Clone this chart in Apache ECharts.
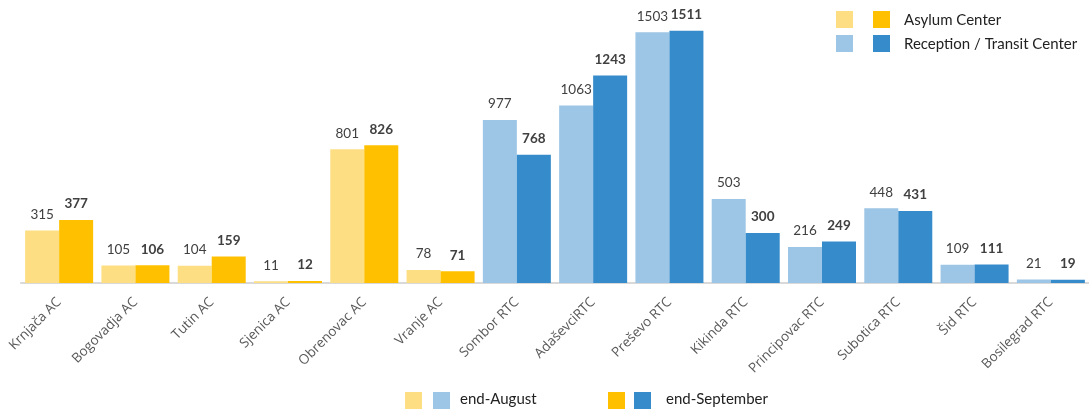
<!DOCTYPE html>
<html><head><meta charset="utf-8">
<script src="https://cdn.jsdelivr.net/npm/echarts@6/dist/echarts.min.js"></script>
<style>html,body{margin:0;padding:0;background:#fff}#c{width:1089px;height:412px}</style>
</head><body><div id="c"></div>
<script>
const categories = ['Krnjača AC','Bogovadja AC','Tutin AC','Sjenica AC','Obrenovac AC','Vranje AC','Sombor RTC','AdaševciRTC','Preševo RTC','Kikinda RTC','Principovac RTC','Subotica RTC','Šid RTC','Bosilegrad RTC'];
const centerType = ['AC','AC','AC','AC','AC','AC','RTC','RTC','RTC','RTC','RTC','RTC','RTC','RTC'];
const endAugust = [315,105,104,11,801,78,977,1063,1503,503,216,448,109,21];
const endSeptember = [377,106,159,12,826,71,768,1243,1511,300,249,431,111,19];

const colors = {
  AC: {aug:'#FDDE82', sep:'#FFC000'},
  RTC: {aug:'#9DC6E6', sep:'#368CCB'}
};
const chart = echarts.init(document.getElementById('c'), null, {renderer:'canvas'});
const labelBase = {show:true, position:'top', distance:9, fontFamily:'Lato', fontSize:13.5, color:'#404040'};
function sq(x,y,c){return {type:'rect', shape:{x:x,y:y,width:17,height:17}, style:{fill:c}};}
chart.setOption({
  animation:false,
  grid:{left:21, right:0, top:16, bottom:129},
  xAxis:{type:'category', data:categories,
    axisLine:{lineStyle:{color:'#D9D9D9', width:2}},
    axisTick:{show:false},
    axisLabel:{rotate:45, interval:0, fontFamily:'Open Sans', fontSize:13.5, color:'#595959', margin:17}
  },
  yAxis:{type:'value', min:0, max:1600, show:false, splitLine:{show:false}},
  series:[
    {name:'end-August', type:'bar', data:endAugust, barWidth:34, barGap:'0%',
     itemStyle:{color:p=>colors[centerType[p.dataIndex]].aug},
     label:Object.assign({}, labelBase, {fontWeight:'normal'})},
    {name:'end-September', type:'bar', data:endSeptember, barWidth:34, barGap:'0%',
     itemStyle:{color:p=>colors[centerType[p.dataIndex]].sep},
     label:Object.assign({}, labelBase, {fontWeight:'bold'})}
  ],
  graphic:[
    sq(836,11,colors.AC.aug), sq(873,11,colors.AC.sep),
    {type:'text', left:904, top:13, style:{text:'Asylum Center', font:'15px Lato', fill:'#222'}},
    sq(836,35,colors.RTC.aug), sq(873,35,colors.RTC.sep),
    {type:'text', left:904, top:37, style:{text:'Reception / Transit Center', font:'15px Lato', fill:'#222'}},
    sq(405,392,colors.AC.aug), sq(433,392,colors.RTC.aug),
    {type:'text', left:460, top:392, style:{text:'end-August', font:'15px Lato', fill:'#222'}},
    sq(608,392,colors.AC.sep), sq(634,392,colors.RTC.sep),
    {type:'text', left:666, top:392, style:{text:'end-September', font:'15px Lato', fill:'#222'}}
  ]
});
</script></body></html>
